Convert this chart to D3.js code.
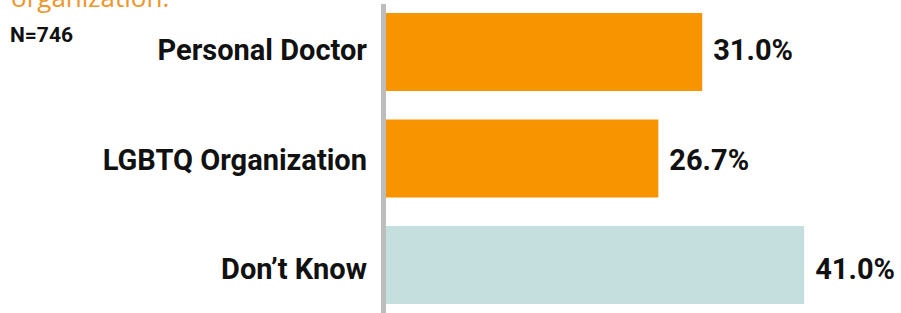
<!DOCTYPE html>
<html><head><meta charset="utf-8">
<script src="https://cdn.jsdelivr.net/npm/d3@7"></script>
<style>body{margin:0;background:#fff;}svg{display:block;}</style>
</head><body>
<script>
const categories = ["Personal Doctor", "LGBTQ Organization", "Don’t Know"];
const values = [31.0, 26.7, 41.0];
const colors = ["#F79400", "#F79400", "#C5DFDF"];
const titleText = "organization.";
const sampleText = "N=746";

const W = 901, H = 313;
const svg = d3.select("body").append("svg").attr("width", W).attr("height", H);

const x = d3.scaleLinear().domain([0, 10]).range([386, 488]);
const y = d3.scaleBand().domain(categories).range([13, 304]).paddingInner(0.2676).paddingOuter(0);
const yLabel = d3.scalePoint().domain(categories).range([50, 269]);

svg.append("text").attr("x", 11).attr("y", 7)
  .attr("font-family", "Open Sans, sans-serif").attr("font-size", 26)
  .attr("fill", "#EE962A").text(titleText);

svg.append("text").attr("x", 10).attr("y", 42)
  .attr("font-family", "Roboto, sans-serif").attr("font-weight", 700).attr("font-size", 21)
  .attr("fill", "#111").text(sampleText);

svg.selectAll("rect.bar").data(categories).join("rect").attr("class", "bar")
  .attr("x", x(0)).attr("y", d => y(d))
  .attr("width", (d, i) => x(values[i]) - x(0))
  .attr("height", y.bandwidth())
  .attr("fill", (d, i) => colors[i]);

svg.append("rect").attr("x", x(0) - 5).attr("y", 4).attr("width", 5).attr("height", H - 4).attr("fill", "#BDBDBD");

svg.selectAll("text.cat").data(categories).join("text").attr("class", "cat")
  .attr("x", 367).attr("y", d => yLabel(d))
  .attr("dy", "0.35em").attr("text-anchor", "end")
  .attr("font-family", "Roboto, sans-serif").attr("font-weight", 700).attr("font-size", 29)
  .attr("fill", "#111").text(d => d);

svg.selectAll("text.val").data(categories).join("text").attr("class", "val")
  .attr("x", (d, i) => x(values[i]) + 11).attr("y", d => yLabel(d))
  .attr("dy", "0.35em")
  .attr("font-family", "Roboto, sans-serif").attr("font-weight", 700).attr("font-size", 29)
  .attr("fill", "#111").text((d, i) => values[i].toFixed(1) + "%");
</script>
</body></html>
